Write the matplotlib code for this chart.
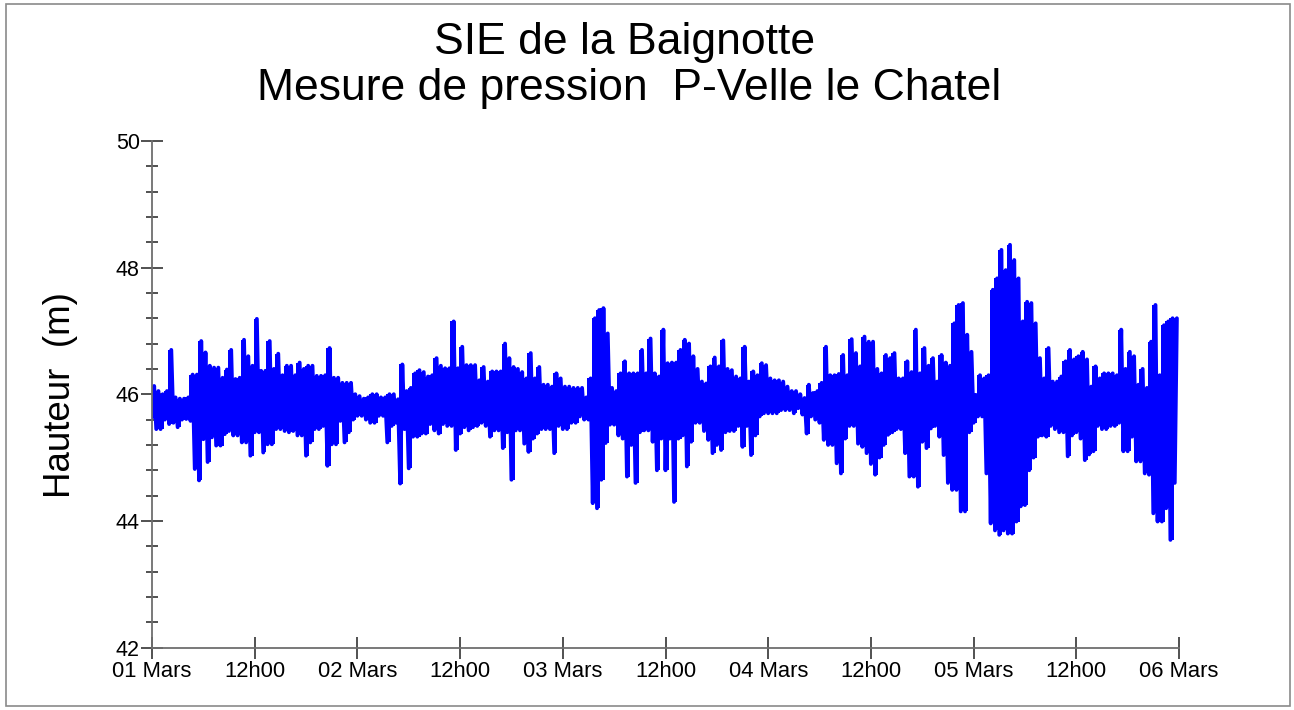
import numpy as np
import matplotlib
matplotlib.use("Agg")
import matplotlib.pyplot as plt
from matplotlib.patches import Rectangle

# ---------------- data ----------------
title_line1 = "SIE de la Baignotte"
title_line2 = "Mesure de pression  P-Velle le Chatel"
ylabel_text = "Hauteur  (m)"

xtick_hours = [0, 12, 24, 36, 48, 60, 72, 84, 96, 108, 120]
xtick_labels = ["01 Mars", "12h00", "02 Mars", "12h00", "03 Mars", "12h00",
                "04 Mars", "12h00", "05 Mars", "12h00", "06 Mars"]
ytick_values = [42, 44, 46, 48, 50]
y_minor_step = 0.4
bin_hours = 0.5   # one high and one low reading per half hour

# upper readings (m), one per half hour from 01 Mars 00h00
high = [
    46.13, 46.05, 46.00, 46.05, 46.70, 45.95, 45.93, 45.93, 45.95, 46.31,
    46.31, 46.84, 46.66, 46.45, 46.42, 46.42, 46.26, 46.39, 46.70, 46.24,
    46.26, 46.86, 46.60, 46.45, 47.19, 46.37, 46.37, 46.84, 46.40, 46.64,
    46.30, 46.45, 46.45, 46.30, 46.50, 46.40, 46.45, 46.45, 46.29, 46.29,
    46.30, 46.73, 46.26, 46.26, 46.18, 46.18, 46.18, 46.00, 45.97, 45.93,
    45.95, 46.00, 46.00, 45.95, 45.95, 46.00, 46.00, 45.92, 46.47, 46.05,
    46.10, 46.33, 46.38, 46.35, 46.28, 46.30, 46.57, 46.45, 46.41, 46.41,
    47.15, 46.41, 46.75, 46.46, 46.46, 46.46, 46.22, 46.43, 46.20, 46.36,
    46.36, 46.36, 46.80, 46.57, 46.43, 46.40, 46.35, 46.25, 46.65, 46.25,
    46.43, 46.15, 46.15, 46.12, 46.33, 46.25, 46.12, 46.12, 46.10, 46.10,
    46.10, 45.95, 46.25, 47.20, 47.33, 47.36, 46.96, 46.10, 46.05, 46.33,
    46.52, 46.33, 46.33, 46.33, 46.70, 46.33, 46.88, 46.33, 46.28, 47.02,
    46.49, 46.50, 46.50, 46.70, 46.86, 46.80, 46.60, 46.40, 46.20, 46.17,
    46.44, 46.58, 46.44, 46.85, 46.40, 46.38, 46.28, 46.25, 46.75, 46.20,
    46.36, 46.30, 46.49, 46.46, 46.25, 46.22, 46.22, 46.20, 46.12, 46.05,
    46.05, 46.00, 45.94, 46.15, 46.02, 46.05, 46.18, 46.75, 46.30, 46.30,
    46.32, 46.62, 46.30, 46.87, 46.65, 46.44, 46.91, 46.83, 46.83, 46.40,
    46.33, 46.62, 46.57, 46.65, 46.25, 46.25, 46.52, 46.35, 47.02, 46.33,
    46.73, 46.45, 46.57, 46.20, 46.62, 46.50, 46.45, 47.12, 47.41, 47.44,
    46.94, 46.67, 45.99, 46.30, 46.25, 46.30, 47.65, 47.83, 48.28, 47.96,
    48.36, 48.12, 47.83, 47.15, 47.46, 47.44, 47.12, 46.57, 46.25, 46.73,
    46.20, 46.20, 46.28, 46.52, 46.70, 46.55, 46.60, 46.67, 46.55, 46.12,
    46.44, 46.25, 46.33, 46.33, 46.33, 46.30, 47.02, 46.40, 46.67, 46.60,
    46.15, 46.40, 46.10, 46.83, 47.41, 46.30, 47.09, 47.15, 47.20, 47.20,
]

# lower readings (m), one per half hour from 01 Mars 00h00
low = [
    45.63, 45.45, 45.45, 45.60, 45.53, 45.55, 45.48, 45.60, 45.61, 45.58,
    44.82, 44.64, 45.29, 44.93, 45.32, 45.19, 45.19, 45.37, 45.42, 45.35,
    45.35, 45.24, 45.24, 45.03, 45.40, 45.40, 45.08, 45.21, 45.21, 45.45,
    45.45, 45.42, 45.40, 45.42, 45.35, 45.35, 45.03, 45.24, 45.45, 45.45,
    45.50, 44.87, 45.21, 45.21, 45.58, 45.24, 45.40, 45.60, 45.66, 45.66,
    45.60, 45.55, 45.55, 45.66, 45.66, 45.24, 45.50, 45.55, 44.59, 45.45,
    44.83, 45.33, 45.33, 45.38, 45.38, 45.53, 45.43, 45.38, 45.53, 45.50,
    45.50, 45.12, 45.38, 45.48, 45.43, 45.48, 45.50, 45.55, 45.50, 45.33,
    45.43, 45.43, 45.15, 45.40, 44.65, 45.43, 45.43, 45.22, 45.09, 45.30,
    45.38, 45.45, 45.45, 45.45, 45.07, 45.50, 45.45, 45.45, 45.55, 45.55,
    45.65, 45.60, 45.60, 44.28, 44.20, 44.65, 45.23, 45.52, 45.52, 45.35,
    45.30, 44.70, 45.20, 44.60, 45.40, 45.43, 45.43, 45.25, 44.80, 45.30,
    44.80, 45.30, 44.30, 45.30, 45.35, 44.86, 45.25, 45.55, 45.55, 45.42,
    45.28, 45.07, 45.20, 45.12, 45.40, 45.42, 45.42, 45.50, 45.17, 45.50,
    45.04, 45.35, 45.65, 45.70, 45.70, 45.70, 45.70, 45.75, 45.75, 45.75,
    45.70, 45.78, 45.68, 45.38, 45.65, 45.60, 45.55, 45.28, 45.20, 45.20,
    44.91, 44.75, 45.30, 45.50, 45.50, 45.22, 45.17, 45.07, 44.90, 44.73,
    45.00, 45.20, 45.36, 45.40, 45.45, 45.45, 45.07, 44.70, 44.70, 44.54,
    45.25, 45.15, 45.46, 45.50, 45.33, 45.04, 44.60, 44.49, 44.49, 44.15,
    44.15, 45.40, 45.55, 45.65, 45.65, 44.75, 43.96, 43.85, 43.78, 43.85,
    43.80, 43.80, 43.99, 44.23, 44.25, 44.80, 45.00, 45.33, 45.35, 45.33,
    45.50, 45.45, 45.40, 45.40, 45.02, 45.35, 45.40, 45.30, 44.96, 45.05,
    45.10, 45.50, 45.45, 45.45, 45.50, 45.50, 45.55, 45.10, 45.10, 45.33,
    44.94, 44.94, 44.75, 44.73, 44.12, 43.99, 43.99, 44.20, 43.70, 44.60,
]

# ---------------- build series ----------------
n = len(high)
t = np.arange(n) * bin_hours
x = np.empty(2 * n)
y = np.empty(2 * n)
x[0::2] = t
x[1::2] = t + bin_hours / 2
y[0::2] = low
y[1::2] = high

FONT = "Liberation Sans"
plt.rcParams["font.family"] = [FONT, "DejaVu Sans"]

W, H = 1294, 710
fig = plt.figure(figsize=(W / 100, H / 100), dpi=100)
fig.patch.set_facecolor("white")

# axes box in pixels: left 152, right 1179, top 141, bottom 647.5
L, R, T, B = 152, 1179, 141, 647.5
ax = fig.add_axes([L / W, 1 - B / H, (R - L) / W, (B - T) / H])

BLUE = "#0000ff"
# the readings swing between low and high within each half hour: solid band
ax.fill_between(t + bin_hours / 4, low, high, step="mid", color=BLUE, lw=0)
ax.plot(x, y, color=BLUE, lw=2.8, solid_joinstyle="round",
        solid_capstyle="round")

ax.set_xlim(xtick_hours[0], xtick_hours[-1])
ax.set_ylim(ytick_values[0], ytick_values[-1])

for s in ("top", "right"):
    ax.spines[s].set_visible(False)
for s in ("left", "bottom"):
    ax.spines[s].set_color("#6e6e6e")
    ax.spines[s].set_linewidth(1.3)

ax.set_xticks(xtick_hours)
ax.set_xticklabels(xtick_labels)
ax.set_yticks(ytick_values)
ax.set_yticklabels([str(v) for v in ytick_values])
ax.set_yticks(np.arange(ytick_values[0], ytick_values[-1] + 1e-9, y_minor_step),
              minor=True)

px2pt = 0.72
ax.tick_params(axis="y", which="major", direction="inout", length=23 * px2pt,
               width=1.1, color="#222222", labelsize=15.5, pad=0.5,
               labelcolor="black")
ax.tick_params(axis="y", which="minor", direction="inout", length=12 * px2pt,
               width=1.1, color="#222222")
ax.tick_params(axis="x", which="major", direction="inout", length=22 * px2pt,
               width=1.1, color="#222222", labelsize=15.8, pad=1.5,
               labelcolor="black")
ax.tick_params(axis="x", which="minor", length=0)

# titles
fig.text(625 / W, 1 - 54 / H, title_line1, ha="center", va="baseline",
         fontsize=32, color="black")
fig.text(629 / W, 1 - 100 / H, title_line2, ha="center", va="baseline",
         fontsize=32, color="black")

# y label
fig.text(60 / W, 1 - 395 / H, ylabel_text, ha="center", va="center",
         rotation=90, fontsize=26.5, color="black")

# outer frame
fig.patches.append(Rectangle((6 / W, 1 - 706 / H), (1290 - 6) / W,
                             (706 - 4) / H, transform=fig.transFigure,
                             fill=False, edgecolor="#8a8a8a", lw=1.2))

fig.savefig("out.png", dpi=100, facecolor="white")
